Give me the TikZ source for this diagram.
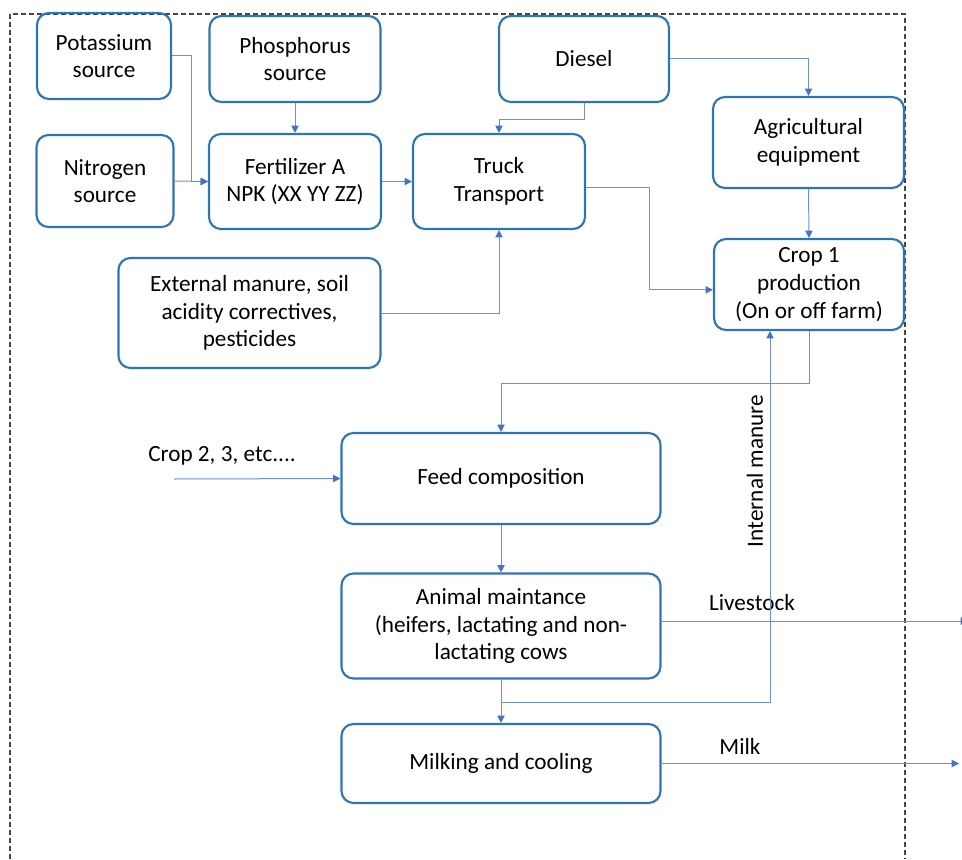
\documentclass[tikz,border=0pt]{standalone}
\usepackage{fontspec}
\setmainfont{Carlito}
\usetikzlibrary{arrows.meta}
\definecolor{boxblue}{RGB}{46,117,182}
\definecolor{lineblue}{RGB}{110,143,208}
\definecolor{tipblue}{RGB}{68,114,196}
\definecolor{framegray}{RGB}{70,70,70}
\tikzset{
  bx/.style 2 args={draw=boxblue, line width=1.6pt, rounded corners=9pt, align=center,
    minimum width=#1*0.75pt, minimum height=#2*0.75pt, inner sep=0pt,
    font=\fontsize{17.4pt}{20.8pt}\selectfont},
  conn/.style={draw=lineblue, line width=0.75pt, -{Triangle[length=5.5pt,width=5.5pt,fill=tipblue,color=tipblue]}},
  lbl/.style={font=\fontsize{17.4pt}{20.8pt}\selectfont, inner sep=0pt},
  frame/.style={draw=framegray, line width=0.8pt, dash pattern=on 3.5pt off 2.5pt}
}
\begin{document}
\begin{tikzpicture}[x=0.75pt, y=-0.75pt]
\useasboundingbox (0,0) rectangle (962,859);
\draw[frame] (10,859) -- (10,14) -- (905,14) -- (905,859);

\node[bx={134}{86}] (pot) at (104,56) {Potassium\\source};
\node[bx={171}{86}] (phos) at (295,59) {Phosphorus\\source};
\node[bx={137}{92}] (nit) at (105,181) {Nitrogen\\source};
\node[bx={172}{95}] (fert) at (295,181.5) {Fertilizer A\\NPK (XX YY ZZ)};
\node[bx={172}{95}] (truck) at (499,181.5) {Truck\\Transport};
\node[bx={170}{86}] (dies) at (584,59) {Diesel};
\node[bx={191}{91}] (agri) at (808.5,142.5) {Agricultural\\equipment};
\node[bx={190}{91}] (crop) at (809,284.5) {Crop 1\\production\\(On or off farm)};
\node[bx={262}{110}] (ext) at (249.5,313) {External manure, soil\\acidity correctives,\\pesticides};
\node[bx={319}{91}] (feed) at (501,478.5) {Feed composition};
\node[bx={319}{105}] (anim) at (501,626) {Animal maintance\\(heifers, lactating and non-\\lactating cows};
\node[bx={319}{79}] (milk) at (501,763.5) {Milking and cooling};

\node[lbl] (c2lbl) at (222,456) {Crop 2, 3, etc....};
\node[lbl, rotate=90] (imlbl) at (755,471) {Internal manure};
\node[lbl] (lvlbl) at (752,603) {Livestock};
\node[lbl] (mklbl) at (740,746) {Milk};

\coordinate (c2s) at (174,479);
\coordinate (lvEnd) at (968,621);
\coordinate (milkEnd) at (959,763.5);

\draw[conn] (pot.east) -- ++(19,0) |- (fert.west);
\draw[conn] (nit.east) -- (fert.west);
\draw[conn] (phos.south) -- (fert.north);
\draw[conn] (fert.east) -- (truck.west);
\draw[conn] (dies.south) -- ++(0,16) -| (truck.north);
\draw[conn] (dies.east) -| (agri.north);
\draw[conn] (agri.south) -- (crop.north);
\draw[conn] ([yshift=-4.5pt]truck.east) -- ++(63,0) |- ([yshift=-4pt]crop.west);
\draw[conn] (ext.east) -| (truck.south);
\draw[conn] (crop.south) -- ++(0,52) -| (feed.north);
\draw[conn] (c2s) -- (feed.west);
\draw[conn] (feed.south) -- (anim.north);
\draw[conn] (anim.south) -- (milk.north);
\draw[conn] (anim.south) -- ++(0,23) -| ([xshift=-29.25pt]crop.south);
\draw[conn] ([yshift=3.75pt]anim.east) -- (lvEnd);
\draw[conn] (milk.east) -- (milkEnd);
\end{tikzpicture}
\end{document}
